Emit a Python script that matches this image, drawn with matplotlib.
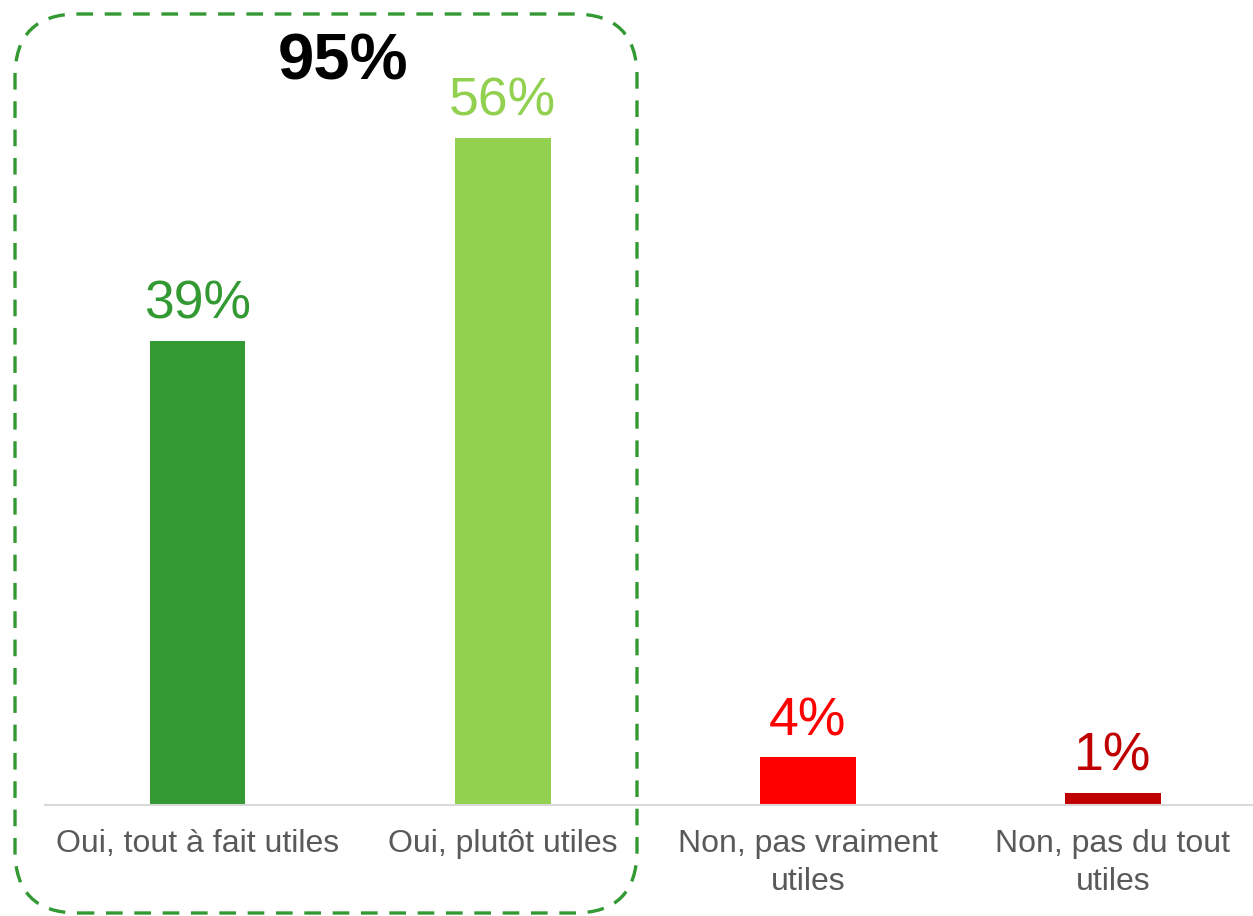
import matplotlib.pyplot as plt
from matplotlib.patches import FancyBboxPatch

plt.rcParams['font.family'] = ['Liberation Sans', 'DejaVu Sans']

# data
categories = ['Oui, tout à fait utiles', 'Oui, plutôt utiles',
              'Non, pas vraiment\nutiles', 'Non, pas du tout\nutiles']
values = [39, 56, 4, 1]
colors = ['#339933', '#92D050', '#FF0000', '#C00000']
total_label = '95%'

W, H = 1253, 916
fig = plt.figure(figsize=(W / 100, H / 100), dpi=100)

# axes: baseline at y=805px, 11.91 px per percent
base = 805
ax = fig.add_axes([45 / W, (H - base) / H, (W - 45) / W, base / H])
x = list(range(len(categories)))
ax.bar(x, values, width=0.314, color=colors)
ax.set_xlim(-0.5, 3.459)
ax.set_ylim(0, base / 11.91)

for xi, v, c in zip(x, values, colors):
    ax.annotate(f'{v}%', (xi, v), xytext=(0, 8), textcoords='offset points',
                ha='center', va='bottom', fontsize=38.5, color=c)

ax.set_xticks(x)
ax.set_xticklabels(categories, fontsize=23, color='#595959', linespacing=1.35)
ax.tick_params(axis='x', length=0, pad=17)
ax.set_yticks([])
for s in ['top', 'right', 'left']:
    ax.spines[s].set_visible(False)
ax.spines['bottom'].set_color('#D9D9D9')
ax.spines['bottom'].set_linewidth(1.5)

# dashed rounded box around the "Oui" group
box = FancyBboxPatch((15 / W, 3 / H), (637 - 15) / W, 899 / H,
                     boxstyle='round,pad=0,rounding_size=0.05',
                     transform=fig.transFigure, fill=False,
                     edgecolor='#339933', linewidth=2.4,
                     linestyle=(0, (5, 3.5)), mutation_aspect=W / H)
fig.patches.append(box)

fig.text(343 / W, 1 - 62 / H, total_label, ha='center', va='center',
         fontsize=47, fontweight='bold', color='black')

fig.savefig('out.png', dpi=100)
